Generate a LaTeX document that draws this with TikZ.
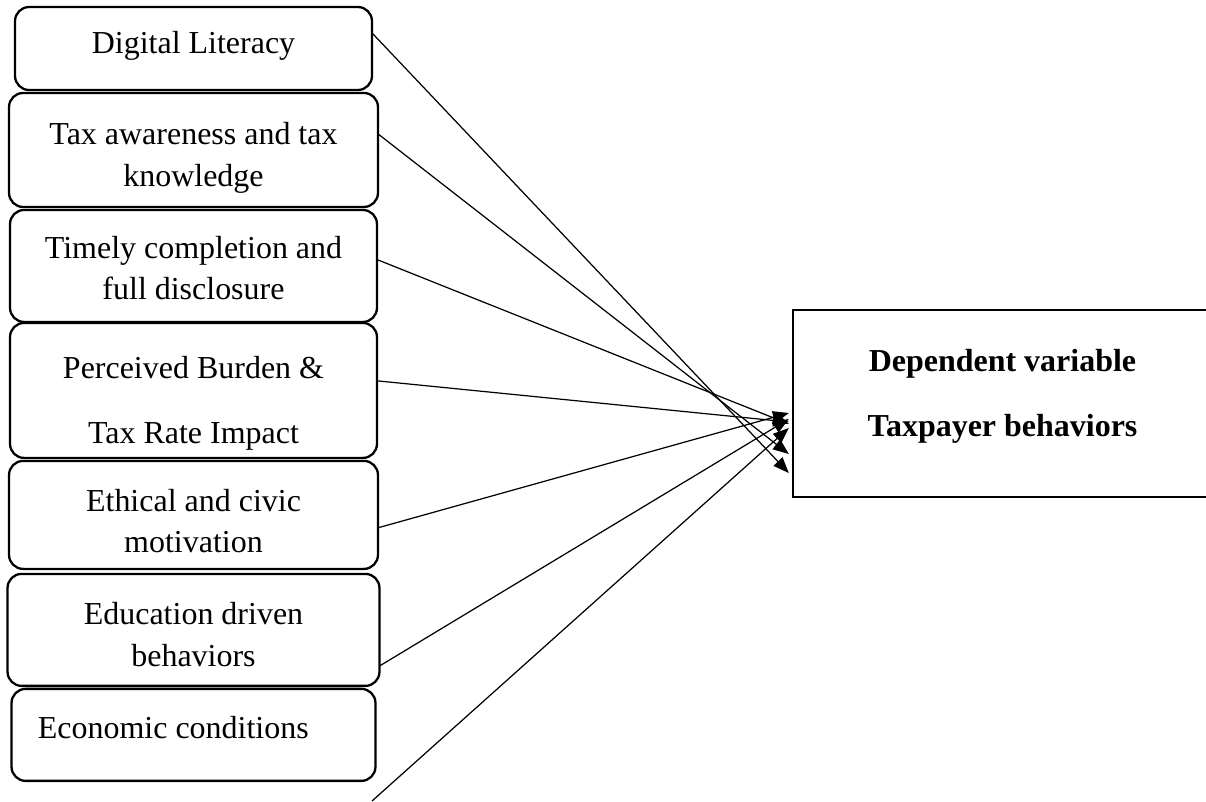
\documentclass[tikz,border=0pt]{standalone}
\usepackage{fontspec}
\setmainfont{Liberation Serif}
\usepackage{tikz}
\usetikzlibrary{arrows.meta, positioning, calc}

\begin{document}
\begin{tikzpicture}[
  x=0.02cm, y=-0.02cm,
  node distance=0.06cm,
  factor/.style={draw, line width=1.3pt, rounded corners=8pt, align=center,
                 inner sep=2pt, outer sep=0pt, font=\fontsize{18.2}{23.8}\selectfont},
  outcome/.style={draw, line width=1.4pt, minimum width=8.38cm, minimum height=3.74cm,
                  align=center, font=\fontsize{18.2}{36.5}\selectfont\bfseries},
  arr/.style={-{Triangle[length=9pt, width=7pt]}, line width=0.7pt}
]
  \useasboundingbox (0,0) rectangle (1206,801);

  % Independent variables (left column)
  \node[factor, minimum width=7.14cm, minimum height=1.66cm] (lit) at (193.5,48.5)
       {Digital Literacy\rule[-6.5pt]{0pt}{0pt}};
  \node[factor, below=of lit, minimum width=7.38cm, minimum height=2.28cm] (aware)
       {\rule{0pt}{22pt}Tax awareness and tax\\knowledge};
  \node[factor, below=of aware, minimum width=7.34cm, minimum height=2.24cm] (timely)
       {\rule{0pt}{15pt}Timely completion and\\full disclosure};
  \node[factor, below=0.02cm of timely, minimum width=7.34cm, minimum height=2.70cm] (burden)
       {\rule{0pt}{27.6pt}Perceived Burden \&\\[13pt]Tax Rate Impact};
  \node[factor, below=of burden, minimum width=7.38cm, minimum height=2.16cm] (ethic)
       {\rule{0pt}{19.6pt}Ethical and civic\\motivation};
  \node[factor, below=0.1cm of ethic, minimum width=7.44cm, minimum height=2.24cm] (edu)
       {\rule{0pt}{17.8pt}Education driven\\behaviors};
  \node[factor, below=of edu, minimum width=7.28cm, minimum height=1.84cm] (econ) {};
  \node[font=\fontsize{18.2}{23.8}\selectfont, anchor=west, inner sep=0pt] (econtxt)
       at ($(econ.west)+(26,-7)$) {Economic conditions};

  % Dependent variable (right)
  \node[outcome] (dep) at (1002.5,403.5)
       {Dependent variable\\Taxpayer behaviors\rule[-12pt]{0pt}{0pt}};

  % Arrow ends
  \coordinate (e1) at ($(dep.west)+(-3,69.5)$);
  \coordinate (e2) at ($(dep.west)+(-3,50.5)$);
  \coordinate (e3) at ($(dep.west)+(-3,20.5)$);
  \coordinate (e4) at ($(dep.west)+(-3,18.5)$);
  \coordinate (e5) at ($(dep.west)+(-3,9.5)$);
  \coordinate (e6) at ($(dep.west)+(-3,15.5)$);
  \coordinate (e7) at ($(dep.west)+(-3,24.5)$);
  \coordinate (econfoot) at (372,801);

  \draw[arr] (lit.5) -- (e1);
  \draw[arr] (aware.5) -- (e2);
  \draw[arr] (timely.2) -- (e3);
  \draw[arr] (burden.3) -- (e4);
  \draw[arr] (ethic.-4) -- (e5);
  \draw[arr] (edu.-11) -- (e6);
  \draw[arr] (econfoot) -- (e7);
\end{tikzpicture}
\end{document}
